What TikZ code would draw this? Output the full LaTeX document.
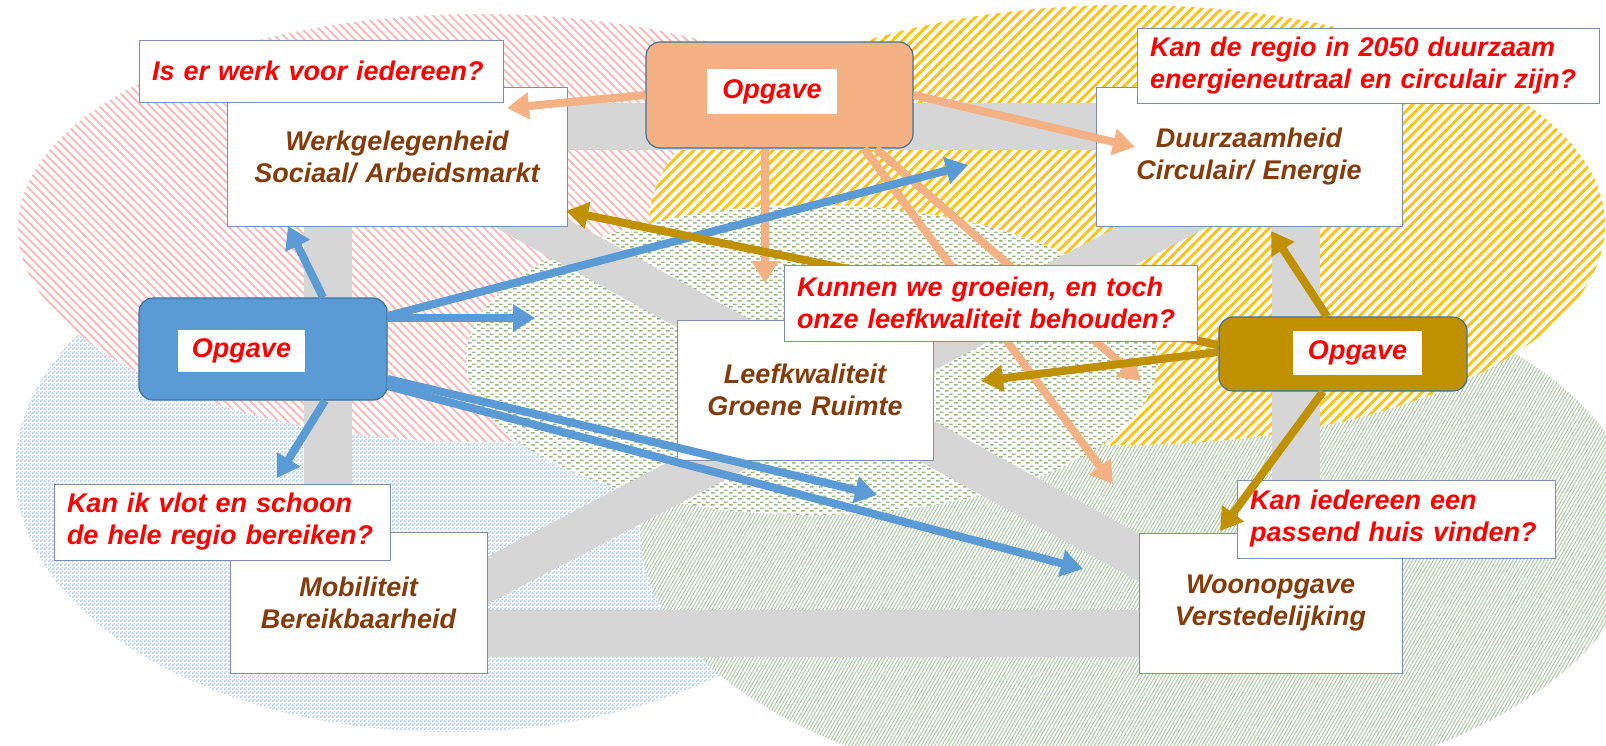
\documentclass[tikz,border=0pt]{standalone}
\usepackage{fontspec}
\setmainfont{Liberation Sans}
\usetikzlibrary{arrows.meta,patterns.meta}

\definecolor{bandgray}{RGB}{214,214,214}
\definecolor{boxline}{RGB}{120,145,178}
\definecolor{txtbrown}{RGB}{132,60,12}
\definecolor{qred}{RGB}{255,0,0}
\definecolor{orng}{RGB}{244,177,131}
\definecolor{blu}{RGB}{91,155,213}
\definecolor{gld}{RGB}{191,144,0}
\definecolor{opgline}{RGB}{65,113,156}
\definecolor{pinkh}{RGB}{247,188,188}
\definecolor{yelh}{RGB}{250,196,30}
\definecolor{blueh}{RGB}{178,206,236}
\definecolor{greenh}{RGB}{178,204,172}
\definecolor{greenc}{RGB}{150,186,128}

\pgfdeclarepattern{
  name=gdash, type=uncolored,
  bottom left={\pgfpoint{0pt}{0pt}},
  top right={\pgfpoint{9pt}{6pt}},
  tile size={\pgfpoint{9pt}{6pt}},
  code={
    \pgfpathrectangle{\pgfpoint{0pt}{0.5pt}}{\pgfpoint{4pt}{1.7pt}}
    \pgfpathrectangle{\pgfpoint{4.5pt}{3.5pt}}{\pgfpoint{4pt}{1.7pt}}
    \pgfusepath{fill}
  }
}
\pgfdeclarepattern{
  name=bdots, type=uncolored,
  bottom left={\pgfpoint{0pt}{0pt}},
  top right={\pgfpoint{4pt}{4pt}},
  tile size={\pgfpoint{4pt}{4pt}},
  code={
    \pgfpathrectangle{\pgfpoint{0pt}{0pt}}{\pgfpoint{2pt}{2pt}}
    \pgfpathrectangle{\pgfpoint{2pt}{2pt}}{\pgfpoint{2pt}{2pt}}
    \pgfusepath{fill}
  }
}

\tikzset{
  txtfont/.style={font=\fontsize{27}{32}\selectfont\bfseries\itshape},
  tbox/.style={draw=boxline, line width=1pt, fill=white, inner sep=0pt,
    align=center, text=txtbrown, txtfont},
  qbox/.style={draw=boxline, line width=1pt, fill=white, inner xsep=13pt,
    inner ysep=0pt, align=left, text=qred, txtfont},
  opg/.style={draw=opgline, line width=1.2pt, rounded corners=14pt, inner sep=0pt},
  opglabel/.style={fill=white, text=qred, txtfont, inner sep=0pt},
  band/.style={bandgray, line width=42pt},
  arr/.style={line width=8pt, -{Triangle[length=22pt,width=26pt]}},
  zblue/.style={preaction={fill=white}, pattern=bdots, pattern color=blueh},
  zgreen/.style={preaction={fill=white}, pattern={Lines[angle=60,distance=3pt,line width=1.1pt]}, pattern color=greenh},
  zpink/.style={preaction={fill=white}, pattern={Lines[angle=-45,distance=6pt,line width=2pt]}, pattern color=pinkh},
  zyellow/.style={preaction={fill=white}, pattern={Lines[angle=45,distance=7pt,line width=3pt]}, pattern color=yelh},
  zcenter/.style={preaction={fill=white}, pattern=gdash, pattern color=greenc},
}

\begin{document}
\begin{tikzpicture}[x=1pt,y=-1pt]
\useasboundingbox (0,0) rectangle (1606,745);
\fill[white] (0,0) rectangle (1606,745);
\begin{scope}
\clip (0,0) rectangle (1606,745);
% hatched zones
\fill[zblue] (450,470) ellipse [x radius=435pt, y radius=262pt];
\fill[zgreen] (1140,530) ellipse [x radius=500pt, y radius=267pt];
\fill[zpink] (480,228) ellipse [x radius=462pt, y radius=214pt];
\fill[zyellow] (1127,225) ellipse [x radius=478pt, y radius=220pt];
\fill[zcenter] (812,360) ellipse [x radius=346pt, y radius=155pt];
% gray frame bands
\fill[bandgray] (400,103) rectangle (1250,150);
\fill[bandgray] (358,610) rectangle (1270,657);
\fill[bandgray] (304,156) rectangle (352,602);
\fill[bandgray] (1272,156) rectangle (1320,603);
\draw[band] (500,206) -- (1190,586);
\draw[band] (1210,202) -- (450,600);
\end{scope}

% theme boxes
\node[tbox, minimum width=340pt, minimum height=139pt, text width=330pt] (werk) at (397,156.5) {Werkgelegenheid\\Sociaal/ Arbeidsmarkt};
\node[tbox, minimum width=306pt, minimum height=139pt, text width=296pt] (duurz) at (1249,156.5) {Duurzaamheid\\Circulair/ Energie};
\node[tbox, minimum width=256pt, minimum height=140pt, text width=246pt] (leef) at (805,390) {Leefkwaliteit\\Groene Ruimte};
\node[tbox, minimum width=257pt, minimum height=141pt, text width=247pt] (mob) at (358.5,602.5) {Mobiliteit\\Bereikbaarheid};
\node[tbox, minimum width=263pt, minimum height=140pt, text width=253pt] (woon) at (1270.5,603) {Woonopgave\\Verstedelijking};

% question boxes
\node[qbox, minimum width=364pt, minimum height=62pt, text width=338pt] (qwerk) at (321,71) {Is er werk voor iedereen?};
\node[qbox, minimum width=462pt, minimum height=75pt, text width=436pt] (qduurz) at (1368,65.5) {Kan de regio in 2050 duurzaam\\energieneutraal en circulair zijn?};
\node[qbox, minimum width=336pt, minimum height=76pt, text width=310pt] (qmob) at (222,522) {Kan ik vlot en schoon\\de hele regio bereiken?};
\node[qbox, minimum width=318pt, minimum height=78pt, text width=292pt] (qwoon) at (1396,519) {Kan iedereen een\\passend huis vinden?};

% Opgave boxes
\node[opg, fill=orng, minimum width=267pt, minimum height=106pt] (opgO) at (779.5,95) {};
\node[opglabel, minimum width=130pt, minimum height=45pt] (opgOl) at (772,91.5) {Opgave};
\node[opg, fill=blu, minimum width=248pt, minimum height=102pt] (opgB) at (263,349) {};
\node[opglabel, minimum width=127pt, minimum height=42pt] (opgBl) at (241.5,351) {Opgave};
\node[opg, fill=gld, minimum width=248pt, minimum height=74pt] (opgG) at (1343,354) {};
\node[opglabel, minimum width=129pt, minimum height=44pt] (opgGl) at (1357.5,353) {Opgave};

% arrow tips
\coordinate (oAt) at (507,108);
\coordinate (oBt) at (1135,147);
\coordinate (oCt) at (765,283);
\coordinate (oDt) at (1113,484);
\coordinate (oEt) at (1141,381);
\coordinate (bAt) at (288,226);
\coordinate (bBt) at (277,478);
\coordinate (bCt) at (968,165);
\coordinate (bDt) at (535,318);
\coordinate (bEt) at (877,495);
\coordinate (bFt) at (1083,569);
\coordinate (gAt) at (566,211);
\coordinate (gBt) at (981,381);
\coordinate (gCt) at (1271,231);
\coordinate (gDt) at (1220,531);

% orange arrows
\draw[arr, orng] (opgO.west) -- (oAt);
\draw[arr, orng] (opgO.east) -- (oBt);
\draw[arr, orng] (opgO.south -| oCt) -- (oCt);
\draw[arr, orng] ([xshift=84.5pt]opgO.south) -- (oDt);
\draw[arr, orng] ([xshift=96.5pt]opgO.south) -- (oEt);
% blue arrows
\draw[arr, blu] ([xshift=60pt]opgB.north) -- (bAt);
\draw[arr, blu] ([xshift=62pt]opgB.south) -- (bBt);
\draw[arr, blu] ([yshift=33pt]opgB.east) -- (bCt);
\draw[arr, blu] ([yshift=31pt]opgB.east) -- (bDt);
\draw[arr, blu] ([yshift=-30pt]opgB.east) -- (bEt);
\draw[arr, blu] ([yshift=-37pt]opgB.east) -- (bFt);
% gold arrows
\draw[arr, gld] ([yshift=9pt]opgG.west) -- (gAt);
\draw[arr, gld] ([yshift=2pt]opgG.west) -- (gBt);
\draw[arr, gld] ([xshift=-16pt]opgG.north) -- (gCt);
\draw[arr, gld] ([xshift=-20pt]opgG.south) -- (gDt);

% question box drawn over the arrows
\node[qbox, minimum width=413pt, minimum height=76pt, text width=387pt] (qleef) at (990.5,303) {Kunnen we groeien, en toch\\onze leefkwaliteit behouden?};
\end{tikzpicture}
\end{document}
